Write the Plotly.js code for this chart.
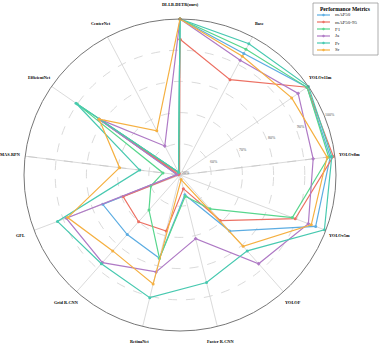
<!DOCTYPE html>
<html>
<head>
<meta charset="utf-8">
<script src="https://cdn.plot.ly/plotly-3.0.1.min.js"></script>
<style>
  html, body { margin: 0; padding: 0; background: #fff; }
  #myPlot { width: 380px; height: 345px; }
</style>
</head>
<body>
<div id="myPlot"></div>
<script>
// models around the radar, clockwise from top
var models = ['DI-LB-DETR(ours)', 'Base', 'YOLOv11m', 'YOLOv8m', 'YOLOv5m', 'YOLOF',
              'Faster R-CNN', 'RetinaNet', 'Grid R-CNN', 'GFL', 'MAS-RPN', 'EfficientNet', 'CenterNet'];

// values (%) per metric
var mAP50   = [100, 94, 99.5, 98.5, 96.5, 74, 56.5, 77.5, 75.5, 76.5, 51, 81.5, 51];
var mAP5095 = [93.5, 84.5, 99.5, 99.5, 89.5, 69.5, 54.5, 68.5, 70, 69.5, 50.5, 81.5, 50.5];
var F1      = [100, 95.5, 99.5, 98, 88.5, 64.5, 57, 77.5, 65, 60, 55.5, 90, 51];
var Ja      = [100, 91.5, 96, 93, 94, 88, 71, 82, 87.5, 89, 51, 81.5, 60.5];
var Pr      = [100, 97.5, 100, 99, 99.5, 82.5, 85.5, 90.5, 88, 92, 63, 90.5, 51];
var Sr      = [100, 93, 93.5, 97.5, 95, 80.5, 51.5, 86, 82.5, 88.5, 69.5, 81.5, 66];

var seriesNames  = ['mAP50', 'mAP50-95', 'F1', 'Ja', 'Pr', 'Sr'];
var seriesValues = [mAP50, mAP5095, F1, Ja, Pr, Sr];
var seriesColors = ['#5dade2', '#ec7063', '#58d68d', '#af7ac5', '#48c9b0', '#f5b041'];
var seriesSymbols = ['circle', 'circle', 'circle', 'diamond', 'circle', 'circle'];

var radialTicks = [50, 60, 70, 80, 90, 100];
var rMin = 50, rMax = 100;

// the two spokes that are drawn dashed in the original
var dashedSpokes = ['YOLOv8m', 'MAS-RPN'];

function closeLoop(arr){
	return arr.concat([arr[0]]);
}

var traceArray = [];
for(var s = 0; s < dashedSpokes.length; s++){
	traceArray.push({
		type: 'scatterpolar',
		r: [rMin, rMax],
		theta: [dashedSpokes[s], dashedSpokes[s]],
		mode: 'lines',
		line: {color: '#c8c8c8', width: 0.9, dash: 'dash'},
		hoverinfo: 'skip',
		showlegend: false,
	});
}
for(var i = 0; i < seriesNames.length; i++){
	var trace = {
		type: 'scatterpolar',
		r: closeLoop(seriesValues[i]),
		theta: closeLoop(models),
		mode: 'lines+markers',
		name: seriesNames[i],
		line: {color: seriesColors[i], width: 1.2},
		marker: {color: seriesColors[i], size: 3, symbol: seriesSymbols[i]},
		showlegend: false,
	};
	traceArray.push(trace);
}

var W = 380, H = 345;
function px(x){ return x / W; }
function py(y){ return (H - y) / H; }

// polar frame in pixels
var cx = 180, cy = 175, R = 156;

var shapes = [];
var annotations = [];

// category labels, centred a bit outside the ring (like matplotlib does it)
for(var k = 0; k < models.length; k++){
	var a = (90 - k * 360 / models.length) * Math.PI / 180;
	annotations.push({
		xref: 'paper', yref: 'paper',
		x: px(cx + (R + 15) * Math.cos(a)), y: py(cy - (R + 15) * Math.sin(a)),
		text: '<b>' + models[k] + '</b>', showarrow: false,
		xanchor: 'center', yanchor: 'middle',
		font: {family: 'Liberation Serif', size: 4.3, color: '#000'}
	});
}

// radial tick labels along 22 deg
var tickAng = 22 * Math.PI / 180;
for(var t = 0; t < radialTicks.length; t++){
	var rr = (radialTicks[t] - rMin) / (rMax - rMin) * R + 6;
	annotations.push({
		xref: 'paper', yref: 'paper',
		x: px(cx + rr * Math.cos(tickAng)), y: py(cy - rr * Math.sin(tickAng)),
		text: radialTicks[t] + '%', showarrow: false,
		xanchor: 'center', yanchor: 'middle',
		font: {family: 'Liberation Serif', size: 4, color: '#555'}
	});
}

// hand-made legend box (plotly legend rows are too tall here)
shapes.push({
	type: 'rect', xref: 'paper', yref: 'paper',
	x0: px(313), x1: px(378), y0: py(3), y1: py(55),
	line: {color: '#999', width: 0.8}, fillcolor: 'rgba(255,255,255,0.9)', layer: 'above'
});
annotations.push({
	xref: 'paper', yref: 'paper', x: px(345), y: py(8.5),
	text: '<b>Performance Metrics</b>', showarrow: false,
	xanchor: 'center', yanchor: 'middle',
	font: {family: 'Liberation Serif', size: 5.5, color: '#000'}
});
for(var i = 0; i < seriesNames.length; i++){
	var yy = 15 + i * 7;
	shapes.push({
		type: 'line', xref: 'paper', yref: 'paper',
		x0: px(317), x1: px(330), y0: py(yy), y1: py(yy),
		line: {color: seriesColors[i], width: 1.2}, layer: 'above'
	});
	shapes.push({
		type: 'circle', xref: 'paper', yref: 'paper',
		x0: px(322.5), x1: px(324.5), y0: py(yy - 1), y1: py(yy + 1),
		line: {color: seriesColors[i], width: 0.5}, fillcolor: seriesColors[i], layer: 'above'
	});
	annotations.push({
		xref: 'paper', yref: 'paper', x: px(333), y: py(yy),
		text: seriesNames[i], showarrow: false,
		xanchor: 'left', yanchor: 'middle',
		font: {family: 'Liberation Serif', size: 5, color: '#222'}
	});
}

var plotLayout = {
	width: W,
	height: H,
	margin: {l: 0, r: 0, t: 0, b: 0},
	paper_bgcolor: '#fff',
	showlegend: false,
	polar: {
		domain: {x: [px(cx - R), px(cx + R)], y: [py(cy + R), py(cy - R)]},
		bgcolor: '#fff',
		angularaxis: {
			type: 'category',
			categoryorder: 'array',
			categoryarray: models,
			rotation: 90,
			direction: 'clockwise',
			showline: true,
			linecolor: '#777',
			linewidth: 1,
			gridcolor: '#d0d0d0',
			gridwidth: 0.8,
			ticks: '',
			showticklabels: false,
		},
		radialaxis: {
			range: [rMin, rMax],
			tickvals: radialTicks,
			showline: false,
			showticklabels: false,
			ticks: '',
			gridcolor: '#d0d0d0',
			gridwidth: 0.8,
			griddash: 'dash',
		},
	},
	shapes: shapes,
	annotations: annotations,
};

var myPlot = document.getElementById('myPlot');
Plotly.newPlot(myPlot, traceArray, plotLayout, {displayModeBar: false, staticPlot: true});
</script>
</body>
</html>
